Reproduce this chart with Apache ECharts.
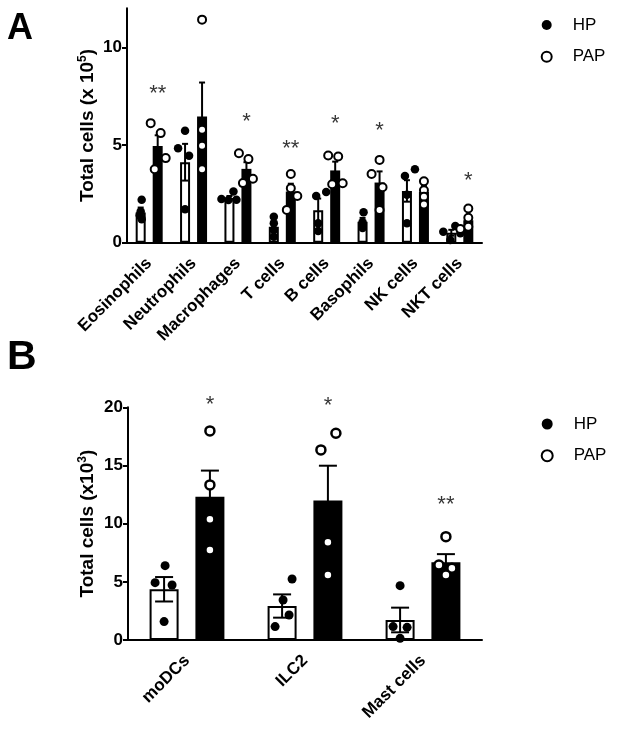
<!DOCTYPE html>
<html><head><meta charset="utf-8">
<script src="https://cdn.jsdelivr.net/npm/echarts@6/dist/echarts.min.js"></script>
<style>html,body{margin:0;padding:0;background:#fff}#c{width:620px;height:731px}</style>
</head><body><div id="c"></div>
<script>
// ---------- DATA ----------
const catsA = ['Eosinophils','Neutrophils','Macrophages','T cells','B cells','Basophils','NK cells','NKT cells'];
const hpMeanA  = [1.55, 4.12, 2.29, 0.82, 1.66, 1.07, 2.65, 0.51];
const papMeanA = [4.95, 6.46, 3.78, 2.62, 3.70, 3.08, 2.60, 1.15];
const hpSemA   = [0.25, 0.94, 0.10, 0.22, 0.60, 0.20, 0.55, 0.15];
const papSemA  = [0.55, 1.74, 0.34, 0.40, 0.45, 0.57, 0.30, 0.25];
const hpPtsA = [[2.2,1.6,1.4,1.2],[4.84,5.73,4.45,1.71],[2.24,2.19,2.62,2.20],[1.33,1.0,0.65,0.31],
                [2.39,2.6,1.0,0.6],[1.56,1.05,0.95,0.75],[3.42,3.76,2.45,1.0],[0.56,0.86,0.14,0.48]];
const papPtsA = [[6.12,5.61,4.33,3.76],[11.42,5.78,4.96,3.76],[4.58,4.28,3.05,3.27],[3.52,2.79,2.39,1.68],
                 [4.46,4.41,2.99,3.04],[4.24,3.52,2.84,1.68],[3.15,2.68,2.35,1.95],[1.75,1.28,0.82,0.7]];
const sigA  = ['**','','*','**','*','*','','*'];
const sigYA = [7.83, null, 6.39, 5.0, 6.29, 5.95, null, 3.38];
const ticksA = [0, 5, 10];

const catsB = ['moDCs','ILC2','Mast cells'];
const hpMeanB  = [4.36, 2.92, 1.72];
const papMeanB = [12.32, 11.98, 6.68];
const hpSemB   = [1.05, 1.0, 1.06];
const papSemB  = [2.24, 3.0, 0.7];
const hpPtsB  = [[6.39,4.93,4.73,1.58],[5.24,3.44,2.15,1.15],[4.67,1.15,1.09,0.14]];
const papPtsB = [[17.97,13.33,10.38,7.74],[16.34,17.77,8.4,5.59],[8.88,6.45,6.16,5.59]];
const sigB  = ['*','*','**'];
const sigYB = [20.58, 20.49, 11.98];
const ticksB = [0, 5, 10, 15, 20];

// ---------- STYLE / LAYOUT ----------
const FONT = 'Liberation Sans, Arial, sans-serif';
const jitHPA  = [[1,0,-1,1],[-7,0,4,0],[-8,-1,4,7],[0,0,0,0],[-2,8,0,0],[1,0,0,0],[-2,8,0,0],[-8,4,-1,9]];
const jitPAPA = [[-7,3,8,-3],[0,0,0,0],[-7.5,2,-3.5,6.5],[0,0,6.5,-4],[-7,3,-3,7.5],[0,-8,3,0],[0,0,0,0],[0,0,0,-8]];
const jitHPB  = [[1,-9,8,0],[10,1,7,-7],[0,-7,7,0]];
const jitPAPB = [[0,0,0,0],[-7,8,0,0],[0,-7,6,0]];

const panels = [
  {cats: catsA, hpMean: hpMeanA, papMean: papMeanA, hpSem: hpSemA, papSem: papSemA,
   hpPts: hpPtsA, papPts: papPtsA, sig: sigA, sigY: sigYA, ticks: ticksA, max: 12, sup: '5', pre: 'Total cells (x 10',
   grid: {left: 127, top: 8.3, width: 355, height: 234.4},
   barW: 10, gap: 0.7, jHP: jitHPA, jPAP: jitPAPA, capW: 6, dotHP: 8.5, dotPAP: 8, openBW: 2,
   legendTop: 11.5, legendSize: 10, nameGap: 28},
  {cats: catsB, hpMean: hpMeanB, papMean: papMeanB, hpSem: hpSemB, papSem: papSemB,
   hpPts: hpPtsB, papPts: papPtsB, sig: sigB, sigY: sigYB, ticks: ticksB, max: 20, sup: '3', pre: 'Total cells (x10',
   grid: {left: 128, top: 407.3, width: 354, height: 232.7},
   barW: 29, gap: 0.58, jHP: jitHPB, jPAP: jitPAPB, capW: 18, dotHP: 9, dotPAP: 9, openBW: 2.5,
   legendTop: 410.5, legendSize: 11, nameGap: 29}
];

const grids = [], xAxes = [], yAxes = [], series = [], legends = [];
function errRender(offset, capW) {
  return function (params, api) {
    const x = api.value(0), lo = api.value(1), hi = api.value(2);
    const p1 = api.coord([x, lo]), p2 = api.coord([x, hi]);
    const cx = p1[0] + offset;
    const st = {stroke: '#000', lineWidth: 2, fill: null};
    return {type: 'group', children: [
      {type: 'line', shape: {x1: cx, y1: p1[1], x2: cx, y2: p2[1]}, style: st},
      {type: 'line', shape: {x1: cx - capW/2, y1: p2[1], x2: cx + capW/2, y2: p2[1]}, style: st},
      {type: 'line', shape: {x1: cx - capW/2, y1: p1[1], x2: cx + capW/2, y2: p1[1]}, style: st}
    ]};
  };
}
panels.forEach((p, gi) => {
  grids.push(Object.assign({containLabel: false}, p.grid));
  xAxes.push({type: 'category', gridIndex: gi, data: p.cats,
    axisLine: {lineStyle: {color: '#000', width: 2}},
    axisTick: {alignWithLabel: true, length: 5, lineStyle: {color: '#000', width: 2}},
    axisLabel: {rotate: 45, interval: 0, margin: 18, color: '#000', fontSize: 17, fontWeight: 'bold', fontFamily: FONT}});
  yAxes.push({type: 'value', gridIndex: gi, min: 0, max: p.max, interval: 5,
    splitLine: {show: false},
    axisLine: {show: true, lineStyle: {color: '#000', width: 2}},
    axisTick: {show: true, length: 5, customValues: p.ticks, lineStyle: {color: '#000', width: 2}},
    axisLabel: {customValues: p.ticks, color: '#000', fontSize: 17, fontWeight: 'bold', fontFamily: FONT, margin: 5},
    name: '{a|' + p.pre + '}{s|' + p.sup + '}{a|)}', nameLocation: 'middle', nameGap: p.nameGap, nameRotate: 90,
    nameMoveOverlap: false,
    nameTextStyle: {rich: {
      a: {fontSize: 19, fontWeight: 'bold', color: '#000', fontFamily: FONT},
      s: {fontSize: 12, fontWeight: 'bold', color: '#000', fontFamily: FONT, padding: [0, 0, 10, 0]}}}});
  const off = p.barW * (1 + p.gap) / 2;
  series.push({type: 'bar', name: 'HP bars', xAxisIndex: gi, yAxisIndex: gi, data: p.hpMean, barWidth: p.barW,
    itemStyle: {color: '#fff', borderColor: '#000', borderWidth: 2}, z: 2, silent: true});
  series.push({type: 'bar', name: 'PAP bars', xAxisIndex: gi, yAxisIndex: gi, data: p.papMean, barWidth: p.barW,
    barGap: (p.gap * 100) + '%', itemStyle: {color: '#000'}, z: 2, silent: true});
  series.push({type: 'custom', xAxisIndex: gi, yAxisIndex: gi, z: 3, renderItem: errRender(-off, p.capW),
    data: p.hpMean.map((m, i) => [i, m - p.hpSem[i], m + p.hpSem[i]])});
  series.push({type: 'custom', xAxisIndex: gi, yAxisIndex: gi, z: 3, renderItem: errRender(off, p.capW),
    data: p.papMean.map((m, i) => [i, m - p.papSem[i], m + p.papSem[i]])});
  const hpData = [], papData = [];
  p.hpPts.forEach((arr, i) => arr.forEach((v, k) => hpData.push({value: [i, v], symbolOffset: [-off + p.jHP[i][k], 0]})));
  p.papPts.forEach((arr, i) => arr.forEach((v, k) => papData.push({value: [i, v], symbolOffset: [off + p.jPAP[i][k], 0]})));
  series.push({type: 'scatter', name: 'HP', xAxisIndex: gi, yAxisIndex: gi, z: 5, clip: false, symbol: 'circle',
    symbolSize: p.dotHP, itemStyle: {color: '#000', opacity: 1}, data: hpData});
  series.push({type: 'scatter', name: 'PAP', xAxisIndex: gi, yAxisIndex: gi, z: 6, clip: false, symbol: 'circle',
    symbolSize: p.dotPAP, itemStyle: {color: '#fff', borderColor: '#000', borderWidth: p.openBW, opacity: 1}, data: papData});
  const sigData = [];
  p.sig.forEach((s, i) => { if (s) sigData.push({name: s, value: [i, p.sigY[i]]}); });
  series.push({type: 'scatter', xAxisIndex: gi, yAxisIndex: gi, z: 7, clip: false, symbolSize: 0, silent: true,
    symbolOffset: [off, 0],
    label: {show: true, position: 'inside', formatter: '{b}', offset: [0, 4], fontSize: 22, color: '#000', fontFamily: FONT},
    data: sigData});
  legends.push({data: ['HP', 'PAP'], orient: 'vertical', left: 535.7, top: p.legendTop, itemWidth: p.legendSize,
    itemHeight: p.legendSize, itemGap: 14.7, icon: 'circle',
    textStyle: {fontSize: 17, color: '#000', fontFamily: FONT, padding: [0, 0, 0, 16]}});
});

const chart = echarts.init(document.getElementById('c'), null, {renderer: 'canvas'});
chart.setOption({
  backgroundColor: '#fff',
  animation: false,
  grid: grids, xAxis: xAxes, yAxis: yAxes, legend: legends, series: series,
  graphic: [
    {type: 'text', left: 7, top: 11, style: {text: 'A', fontSize: 36, fontWeight: 'bold', fill: '#000', fontFamily: FONT}},
    {type: 'text', left: 7, top: 337, style: {text: 'B', fontSize: 41, fontWeight: 'bold', fill: '#000', fontFamily: FONT}}
  ]
});
</script></body></html>
